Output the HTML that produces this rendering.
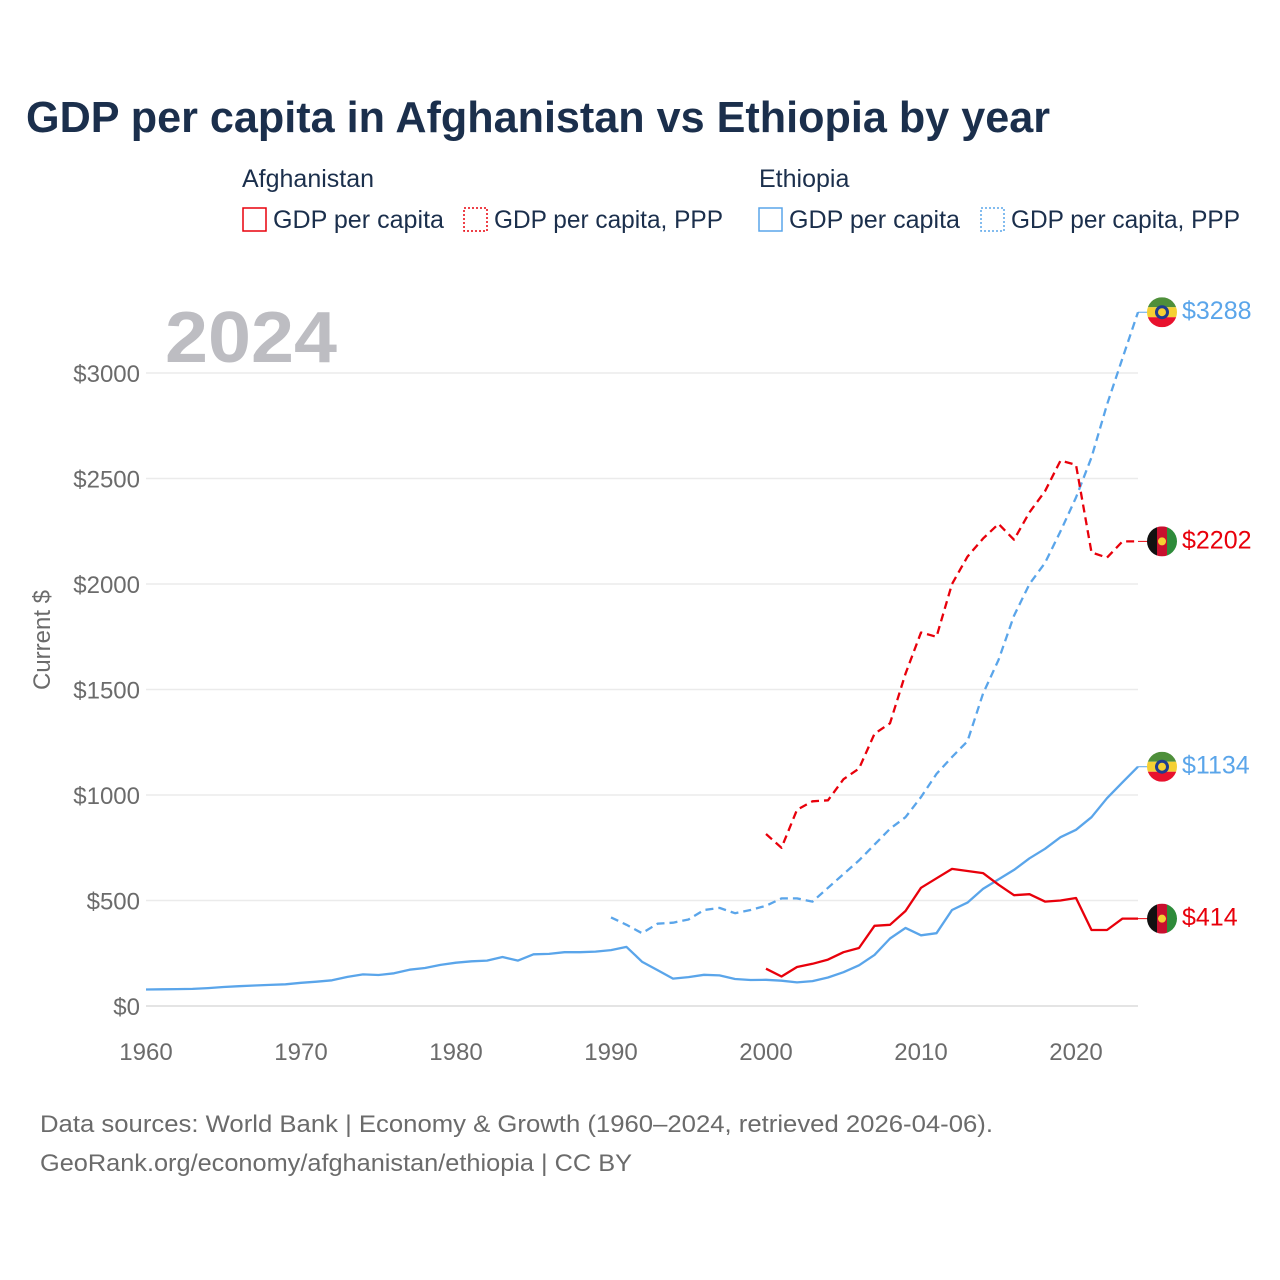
<!DOCTYPE html>
<html><head><meta charset="utf-8"><style>
body{margin:0;background:#fff;}
svg{display:block;font-family:"Liberation Sans",sans-serif;}
</style></head><body>
<svg id="chart" width="1280" height="1280" viewBox="0 0 1280 1280">
<text x="26" y="132" font-size="44" font-weight="bold" fill="#1b2f4c" textLength="1024" lengthAdjust="spacingAndGlyphs">GDP per capita in Afghanistan vs Ethiopia by year</text>
<g font-size="25" fill="#1b2f4c">
<text x="242" y="187">Afghanistan</text>
<text x="759" y="187">Ethiopia</text>
<g><rect x="243" y="208" width="23" height="23" fill="none" stroke="#e8000b" stroke-width="1.5"/><text x="273" y="228" textLength="171" lengthAdjust="spacingAndGlyphs">GDP per capita</text></g>
<g><rect x="464" y="208" width="23" height="23" fill="none" stroke="#e8000b" stroke-width="1.5" stroke-dasharray="2,2"/><text x="494" y="228" textLength="229" lengthAdjust="spacingAndGlyphs">GDP per capita, PPP</text></g>
<g><rect x="759" y="208" width="23" height="23" fill="none" stroke="#5aa5ea" stroke-width="1.5"/><text x="789" y="228" textLength="171" lengthAdjust="spacingAndGlyphs">GDP per capita</text></g>
<g><rect x="981" y="208" width="23" height="23" fill="none" stroke="#5aa5ea" stroke-width="1.5" stroke-dasharray="2,2"/><text x="1011" y="228" textLength="229" lengthAdjust="spacingAndGlyphs">GDP per capita, PPP</text></g>
</g>
<text x="165" y="362" font-size="72" font-weight="bold" fill="#bdbdc2" textLength="172" lengthAdjust="spacingAndGlyphs">2024</text>
<text transform="translate(50,640) rotate(-90)" text-anchor="middle" font-size="24" fill="#6b6b6b">Current $</text>
<g id="grid"></g><g id="series"></g><g id="labels"></g>
<text x="40" y="1132" font-size="24" fill="#6b6b6b" textLength="953" lengthAdjust="spacingAndGlyphs">Data sources: World Bank | Economy &amp; Growth (1960–2024, retrieved 2026-04-06).</text>
<text x="40" y="1171" font-size="24" fill="#6b6b6b" textLength="592" lengthAdjust="spacingAndGlyphs">GeoRank.org/economy/afghanistan/ethiopia | CC BY</text>
</svg>
<script>
const yTicks=[0,500,1000,1500,2000,2500,3000];
const xTicks=[1960,1970,1980,1990,2000,2010,2020];
const afgGdpYears=[2000,2001,2002,2003,2004,2005,2006,2007,2008,2009,2010,2011,2012,2013,2014,2015,2016,2017,2018,2019,2020,2021,2022,2023,2024];
const afgGdp=[177,140,185,200,220,255,275,380,385,450,560,605,650,640,630,575,525,530,495,500,512,360,360,414,414];
const afgPpp=[815,750,930,970,975,1075,1125,1290,1340,1575,1770,1750,2000,2130,2215,2285,2210,2340,2440,2585,2565,2150,2125,2202,2202];
const ethGdpStart=1960;
const ethGdp=[78,79,80,81,85,90,94,97,100,103,110,115,122,138,150,147,155,172,180,195,205,212,215,232,215,245,247,255,255,258,265,280,210,170,130,137,148,145,128,123,124,120,112,118,135,160,193,242,320,370,335,345,455,490,555,600,645,700,745,800,835,895,985,1060,1134];
const ethPppYears=[1990,1991,1992,1993,1994,1995,1996,1997,1998,1999,2000,2001,2002,2003,2004,2005,2006,2007,2008,2009,2010,2011,2012,2013,2014,2015,2016,2017,2018,2019,2020,2021,2022,2023,2024];
const ethPpp=[420,385,345,390,395,410,455,465,440,455,475,510,510,495,560,625,690,765,840,895,990,1100,1180,1255,1480,1640,1850,2000,2100,2250,2410,2600,2850,3070,3288];
const NS="http://www.w3.org/2000/svg";
const X=y=>146+(y-1960)*15.5;
const Y=v=>1006-v*0.211;
function mk(tag,attrs,parent){const e=document.createElementNS(NS,tag);for(const k in attrs)e.setAttribute(k,attrs[k]);parent.appendChild(e);return e;}
const grid=document.getElementById('grid');
yTicks.forEach(v=>{
  const l=mk('line',{x1:146,x2:1138,y1:Y(v),y2:Y(v),stroke:v===0?'#dcdcdc':'#ebebeb','stroke-width':1.5},grid);
  
  
  const t=mk('text',{x:140,y:Y(v)+9,'text-anchor':'end','font-size':24,fill:'#6b6b6b'},grid);
  t.textContent='$'+v;
  
  
});
xTicks.forEach(yr=>{
  const t=mk('text',{x:X(yr),y:1060,'text-anchor':'middle','font-size':24,fill:'#6b6b6b'},grid);
  t.textContent=yr;
  
  
});
const ser=document.getElementById('series');
function line(years,vals,color,dash,name){
  const d=vals.map((v,i)=>(i?'L':'M')+X(years[i]).toFixed(1)+','+Y(v).toFixed(1)).join(' ');
  const p=mk('path',{d:d,fill:'none',stroke:color,'stroke-width':2.3,'stroke-linejoin':'round'},ser);
  if(dash)p.setAttribute('stroke-dasharray',dash);
  
  
  const last=vals[vals.length-1];
  const c=mk('line',{x1:X(years[years.length-1]),x2:1150,y1:Y(last),y2:Y(last),stroke:color,'stroke-width':1},ser);
  
  
}
const ethYears=ethGdp.map((v,i)=>ethGdpStart+i);
line(ethYears,ethGdp,'#5aa5ea',null,'eth-gdp-line');
line(ethPppYears,ethPpp,'#5aa5ea','8,5','eth-ppp-line');
line(afgGdpYears,afgGdp,'#e8000b',null,'afg-gdp-line');
line(afgGdpYears,afgPpp,'#e8000b','8,5','afg-ppp-line');
const lab=document.getElementById('labels');
function flag(v,country,color,name){
  const cy=Y(v),cx=1162,g=mk('g',{},lab);
  
  
  const id='clip'+name;
  const cp=mk('clipPath',{id:id},g);mk('circle',{cx:cx,cy:cy,r:15},cp);
  const f=mk('g',{'clip-path':'url(#'+id+')'},g);
  if(country==='eth'){
    mk('rect',{x:cx-15,y:cy-15,width:30,height:10,fill:'#4e8f3a'},f);
    mk('rect',{x:cx-15,y:cy-5,width:30,height:10,fill:'#f5d033'},f);
    mk('rect',{x:cx-15,y:cy+5,width:30,height:10,fill:'#e8112d'},f);
    mk('circle',{cx:cx,cy:cy,r:7,fill:'#1f3c8f'},f);
    mk('circle',{cx:cx,cy:cy,r:4,fill:'#f5d033'},f);
  }else{
    mk('rect',{x:cx-15,y:cy-15,width:10,height:30,fill:'#111'},f);
    mk('rect',{x:cx-5,y:cy-15,width:10,height:30,fill:'#c8102e'},f);
    mk('rect',{x:cx+5,y:cy-15,width:10,height:30,fill:'#2e8b3a'},f);
    mk('circle',{cx:cx,cy:cy,r:4,fill:'#f5d033'},f);
  }
  const t=mk('text',{x:1182,y:cy+7,'font-size':25,fill:color},g);
  t.textContent='$'+v;
}
flag(ethPpp[ethPpp.length-1],'eth','#5aa5ea','label-eth-ppp');
flag(afgPpp[afgPpp.length-1],'afg','#e8000b','label-afg-ppp');
flag(ethGdp[ethGdp.length-1],'eth','#5aa5ea','label-eth-gdp');
flag(afgGdp[afgGdp.length-1],'afg','#e8000b','label-afg-gdp');
</script>
</body></html>
